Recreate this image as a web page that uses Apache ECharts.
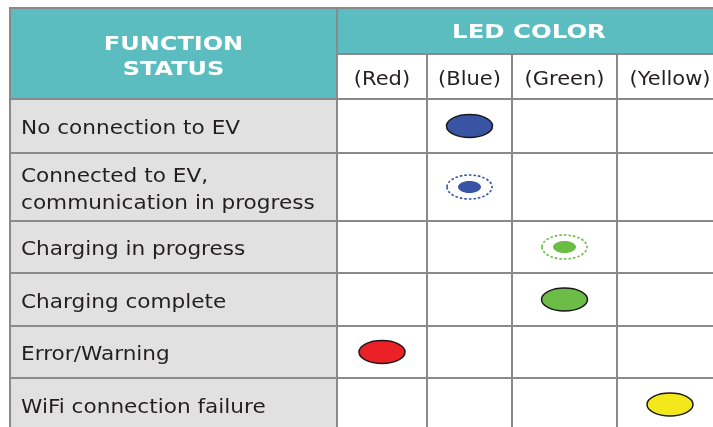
<!DOCTYPE html>
<html><head><meta charset="utf-8">
<script src="https://cdn.jsdelivr.net/npm/echarts@6/dist/echarts.min.js"></script>
<style>html,body{margin:0;padding:0;background:#fff}#c{width:713px;height:427px}</style>
</head><body><div id="c"></div>
<script>
// ---- data ----
const headerLeft = 'FUNCTION\nSTATUS';
const headerRight = 'LED COLOR';
const ledColumns = ['(Red)', '(Blue)', '(Green)', '(Yellow)'];
const statuses = ['No connection to EV', 'Connected to EV,\ncommunication in progress', 'Charging in progress', 'Charging complete', 'Error/Warning', 'WiFi connection failure'];
const ledColumnForStatus = ['(Blue)', '(Blue)', '(Green)', '(Green)', '(Red)', '(Yellow)'];
const ledModeForStatus = ['solid', 'blinking', 'blinking', 'solid', 'solid', 'solid'];

// ---- layout & style ----
const COL_EDGES = [10, 337, 427, 512, 617, 723];
const ROW_EDGES = [8, 54, 99, 153, 221, 273, 326, 378, 431];
const LED_FILL = {'(Red)': '#ec2027', '(Blue)': '#3a54a4', '(Green)': '#6bbd46', '(Yellow)': '#f2e81b'};
const TEAL = '#5bbdc0', GRAYCELL = '#e1e1e1', LINE = '#8a8a8a', TXT = '#231f20';
const FONT = '"DejaVu Sans", sans-serif';

const chart = echarts.init(document.getElementById('c'), null, {renderer: 'canvas'});

function P(api, x, y) { return api.coord([x, y]); }

function txt(x, y, s, o) {
  return {type: 'text', x: x, y: y, scaleX: o.sx || 1,
    style: {text: s, x: 0, y: 0, align: o.align || 'center', verticalAlign: 'middle', fill: o.fill || TXT, font: o.font, lineHeight: o.lh}};
}

const cellItems = [{value: [-1]}].concat(statuses.map((s, i) => ({value: [i]})));

function renderCells(params, api) {
  const r = api.value(0);
  const ch = [];
  if (r < 0) {
    const a = P(api, COL_EDGES[0], ROW_EDGES[0]), b = P(api, COL_EDGES[1], ROW_EDGES[2]);
    ch.push({type: 'rect', shape: {x: a[0], y: a[1], width: b[0] - a[0], height: b[1] - a[1]}, style: {fill: TEAL}});
    const c = P(api, COL_EDGES[1], ROW_EDGES[0]), d = P(api, COL_EDGES[5], ROW_EDGES[1]);
    ch.push({type: 'rect', shape: {x: c[0], y: c[1], width: d[0] - c[0], height: d[1] - c[1]}, style: {fill: TEAL}});
    ch.push(txt((a[0] + b[0]) / 2, (a[1] + b[1]) / 2 + 4, headerLeft, {fill: '#fff', font: 'bold 20px ' + FONT, lh: 25, sx: 1.2}));
    const lc = P(api, (COL_EDGES[1] + 713) / 2 + 4, (ROW_EDGES[0] + ROW_EDGES[1]) / 2 + 2);
    ch.push(txt(lc[0], lc[1], headerRight, {fill: '#fff', font: 'bold 20px ' + FONT, sx: 1.22}));
    ledColumns.forEach((lab, j) => {
      const e = P(api, COL_EDGES[j + 1], ROW_EDGES[1]), f = P(api, COL_EDGES[j + 2], ROW_EDGES[2]);
      ch.push({type: 'rect', shape: {x: e[0], y: e[1], width: f[0] - e[0], height: f[1] - e[1]}, style: {fill: '#fff'}});
      ch.push(txt((e[0] + f[0]) / 2, (e[1] + f[1]) / 2 + 3, lab, {font: '20px ' + FONT, sx: 1.05}));
    });
  } else {
    const y0 = ROW_EDGES[r + 2], y1 = ROW_EDGES[r + 3];
    const a = P(api, COL_EDGES[0], y0), b = P(api, COL_EDGES[1], y1);
    ch.push({type: 'rect', shape: {x: a[0], y: a[1], width: b[0] - a[0], height: b[1] - a[1]}, style: {fill: GRAYCELL}});
    const e = P(api, COL_EDGES[5], y1);
    ch.push({type: 'rect', shape: {x: b[0], y: a[1], width: e[0] - b[0], height: e[1] - a[1]}, style: {fill: '#fff'}});
    ch.push(txt(a[0] + 11, (a[1] + b[1]) / 2 + 3, statuses[r], {align: 'left', font: '20px ' + FONT, lh: 27, sx: 1.08}));
  }
  return {type: 'group', children: ch};
}

function renderLines(params, api) {
  const ch = [];
  const bottom = ROW_EDGES[ROW_EDGES.length - 1];
  const seg = (x1, y1, x2, y2) => {
    const p = P(api, x1, y1), q = P(api, x2, y2);
    ch.push({type: 'line', shape: {x1: p[0], y1: p[1], x2: q[0], y2: q[1]}, style: {stroke: LINE, lineWidth: 2}});
  };
  ROW_EDGES.forEach((y, i) => {
    if (i === 1) seg(COL_EDGES[1], y, COL_EDGES[5], y);
    else seg(COL_EDGES[0] - 1, y, COL_EDGES[5], y);
  });
  COL_EDGES.forEach((x, i) => {
    if (i <= 1) seg(x, ROW_EDGES[0], x, bottom);
    else seg(x, ROW_EDGES[1], x, bottom);
  });
  return {type: 'group', children: ch};
}

const ledData = statuses.map((s, i) => [ledColumns.indexOf(ledColumnForStatus[i]), i, ledModeForStatus[i] === 'solid' ? 0 : 1]);

function renderLed(params, api) {
  const c = api.value(0), r = api.value(1), blink = api.value(2);
  const col = ledColumns[c];
  const p = P(api, (COL_EDGES[c + 1] + COL_EDGES[c + 2]) / 2, (ROW_EDGES[r + 2] + ROW_EDGES[r + 3]) / 2);
  const fill = LED_FILL[col];
  if (!blink) {
    return {type: 'ellipse', shape: {cx: p[0], cy: p[1], rx: 23, ry: 11.5}, style: {fill: fill, stroke: '#1a1a1a', lineWidth: 1.5}};
  }
  return {type: 'group', children: [
    {type: 'ellipse', shape: {cx: p[0], cy: p[1], rx: 22.5, ry: 12}, style: {fill: 'none', stroke: fill, lineWidth: 1.6, lineDash: [2.5, 2]}},
    {type: 'ellipse', shape: {cx: p[0], cy: p[1], rx: 11.5, ry: 6}, style: {fill: fill}}
  ]};
}

chart.setOption({
  animation: false,
  backgroundColor: '#fff',
  grid: {left: 0, right: 0, top: 0, bottom: 0},
  xAxis: {type: 'value', min: 0, max: 713, show: false},
  yAxis: {type: 'value', min: 0, max: 427, inverse: true, show: false},
  series: [
    {type: 'custom', name: 'cells', renderItem: renderCells, data: cellItems, z: 1, clip: false, silent: true},
    {type: 'custom', name: 'lines', renderItem: renderLines, data: [[0]], z: 2, clip: false, silent: true},
    {type: 'custom', name: 'LED', renderItem: renderLed, data: ledData, z: 3, clip: false, silent: true}
  ]
});
</script></body></html>
